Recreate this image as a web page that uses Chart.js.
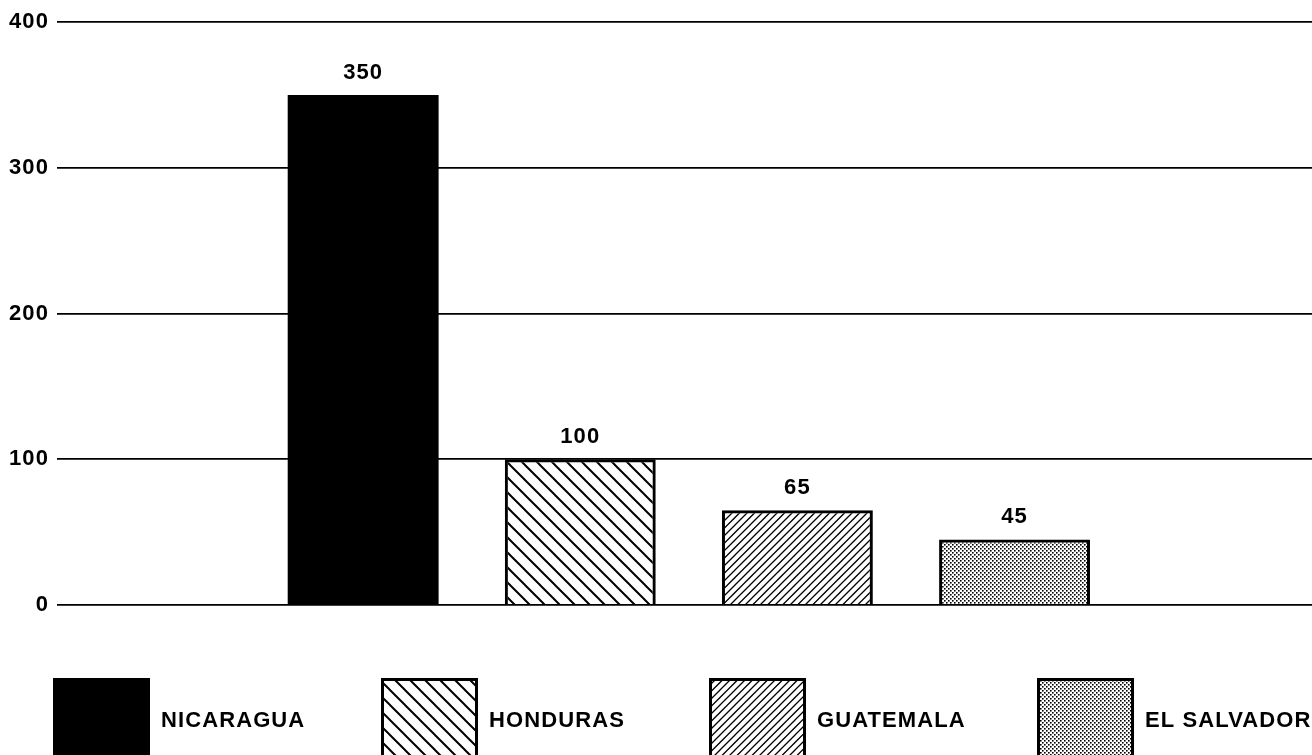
<!DOCTYPE html>
<html>
<head>
<meta charset="utf-8">
<script src="https://cdn.jsdelivr.net/npm/chart.js@4.4.1/dist/chart.umd.min.js"></script>
<style>
    html, body { margin: 0; padding: 0; background: #fff; overflow: hidden; }
    #wrap { position: relative; width: 1312px; height: 775px; }
</style>
</head>
<body>
<div id="wrap"><canvas id="chart"></canvas></div>
<script>
const countries = ["NICARAGUA", "HONDURAS", "GUATEMALA", "EL SALVADOR"];
const values = [350, 100, 65, 45];
const fills = ["solid", "backslash", "slash", "dots"];
const yTicks = [0, 100, 200, 300, 400];

const FONT = { family: "'Liberation Sans', Arial, Helvetica, sans-serif", size: 22, weight: "bold" };
const FONT_CSS = "bold 22px 'Liberation Sans', Arial, Helvetica, sans-serif";
const SPACING = "1.1px";

// hatch / stipple fills for the bars and key boxes
const makePattern = (kind) => {
    if (kind === "solid") return "#000";
    const c = document.createElement("canvas");
    const g = c.getContext("2d");
    g.strokeStyle = "#000";
    g.fillStyle = "#000";
    if (kind === "backslash") {
        const s = 15;
        c.width = c.height = s;
        g.lineWidth = 2;
        g.beginPath();
        for (let k = -1; k <= 1; k++) {
            g.moveTo(k * s - 5, -5);
            g.lineTo(k * s + s + 5, s + 5);
        }
        g.stroke();
    } else if (kind === "slash") {
        const s = 7.5;
        c.width = c.height = 15;
        g.lineWidth = 1.3;
        g.beginPath();
        for (let k = 0; k <= 4; k++) {
            g.moveTo(k * s + 5, -5);
            g.lineTo(k * s - 20, 20);
        }
        g.stroke();
    } else {
        c.width = c.height = 4;
        g.fillRect(0, 0, 1.6, 1.6);
        g.fillRect(2, 2, 1.6, 1.6);
    }
    return g.createPattern(c, "repeat");
};
const patterns = fills.map(makePattern);

const spacing = {
    id: "spacing",
    beforeUpdate(chart) { chart.ctx.letterSpacing = SPACING; },
    beforeDraw(chart) { chart.ctx.letterSpacing = SPACING; },
};

// value printed above each bar
const barLabels = {
    id: "barLabels",
    afterDatasetsDraw(chart) {
        const ctx = chart.ctx;
        const meta = chart.getDatasetMeta(0);
        ctx.save();
        ctx.font = FONT_CSS;
        ctx.fillStyle = "#000";
        ctx.textAlign = "center";
        ctx.textBaseline = "alphabetic";
        meta.data.forEach((bar, i) => {
            ctx.fillText(String(values[i]), bar.x, bar.y - 16);
        });
        ctx.restore();
    },
};

// key row under the plot, one column per country
const keyBoxes = {
    id: "keyBoxes",
    afterDraw(chart) {
        const ctx = chart.ctx;
        const col = chart.width / countries.length;
        const top = chart.chartArea.bottom + 73;
        const w = 97, h = 86;
        ctx.save();
        countries.forEach((name, i) => {
            const x = i * col + 53;
            ctx.fillStyle = patterns[i];
            ctx.fillRect(x, top, w, h);
            ctx.lineWidth = 3;
            ctx.strokeStyle = "#000";
            ctx.strokeRect(x + 1.5, top + 1.5, w - 3, h - 3);
            ctx.fillStyle = "#000";
            ctx.font = FONT_CSS;
            ctx.textAlign = "left";
            ctx.textBaseline = "middle";
            ctx.fillText(name, x + w + 11, top + h / 2);
        });
        ctx.restore();
    },
};

let myChart = new Chart(document.getElementById("chart"), {
    type: "bar",
    plugins: [spacing, barLabels, keyBoxes],
    data: {
        datasets: [
            {
                data: countries.map((c, i) => ({ x: i, y: values[i] })),
                backgroundColor: patterns,
                borderColor: "#000",
                borderWidth: fills.map((f) => (f === "solid" ? 0 : 3)),
                borderSkipped: "start",
                categoryPercentage: 1,
                barPercentage: 0.695,
            },
        ],
    },
    options: {
        responsive: true,
        maintainAspectRatio: false,
        animation: false,
        layout: { padding: { top: 22, left: 1, right: 0, bottom: 170 } },
        plugins: {
            legend: { display: false },
            tooltip: { enabled: false },
        },
        scales: {
            x: {
                type: "linear",
                min: -1.41,
                max: 4.37,
                offset: false,
                display: false,
                afterBuildTicks: (axis) => {
                    axis.ticks = countries.map((c, i) => ({ value: i }));
                },
            },
            y: {
                min: 0,
                max: 400,
                afterBuildTicks: (axis) => {
                    axis.ticks = yTicks.map((v) => ({ value: v }));
                },
                border: { display: false },
                grid: { color: "#000", lineWidth: 1.8, drawTicks: false },
                ticks: { color: "#000", font: FONT, padding: 8 },
            },
        },
    },
});
</script>
</body>
</html>
